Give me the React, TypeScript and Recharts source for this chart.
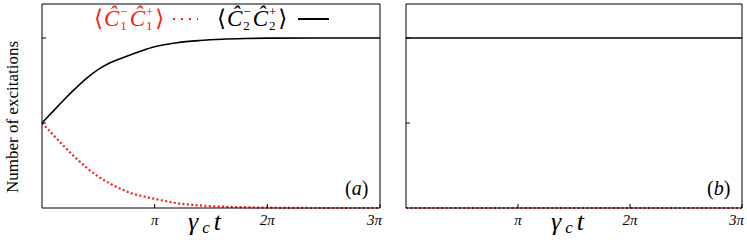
import { LineChart, Line, XAxis, YAxis } from "recharts";

const SERIF = "Liberation Serif, Times New Roman, DejaVu Serif, Tinos, Noto Serif, serif";
const RED = "#ff1a1a";

// time in units of pi
const tLeft = [0, 0.1, 0.2, 0.3, 0.4, 0.5, 0.6, 0.7, 0.8, 0.9, 1.0, 1.2, 1.4, 1.6, 1.8, 2.0, 2.5, 3.0];
const c1Left = [0.5, 0.43, 0.36, 0.295, 0.235, 0.185, 0.145, 0.112, 0.085, 0.068, 0.054, 0.028, 0.015, 0.008, 0.004, 0.002, 0, 0];
const c2Left = [0.5, 0.57, 0.64, 0.705, 0.765, 0.815, 0.853, 0.88, 0.905, 0.928, 0.948, 0.972, 0.985, 0.993, 0.997, 0.999, 1, 1];

const tRight = [0, 1, 2, 3];
const c1Right = [0, 0, 0, 0];
const c2Right = [1, 1, 1, 1];

const xTicks = [1, 2, 3];
const xTickLabels = ["π", "2π", "3π"];
const yTicks = [0.5, 1];

const leftData = tLeft.map((t, i) => ({ t, c1: c1Left[i], c2: c2Left[i] }));
const rightData = tRight.map((t, i) => ({ t, c1: c1Right[i], c2: c2Right[i] }));

function XTick({ x, y, payload }: any) {
  const i = xTicks.indexOf(payload.value);
  const last = i === xTicks.length - 1;
  return (
    <g>
      <line x1={x} x2={x} y1={y} y2={y - 4} stroke="#000" strokeWidth={1} />
      <text
        x={last ? x + 2 : x}
        y={y + 17}
        textAnchor={last ? "end" : "middle"}
        fontSize={15}
        fontFamily={SERIF}
        fontStyle="italic"
        fill="#000"
      >
        {xTickLabels[i]}
      </text>
    </g>
  );
}

function YTick({ x, y }: any) {
  return <line x1={x} x2={x + 4} y1={y} y2={y} stroke="#000" strokeWidth={1} />;
}

function Panel({ data, left, width, marginLeft, marginRight, tag }: any) {
  const plotW = width - marginLeft - marginRight;
  return (
    <div style={{ position: "absolute", left, top: 0 }}>
      <LineChart width={width} height={240} data={data} margin={{ top: 3, right: marginRight - 1, bottom: 31, left: marginLeft - 1 }}>
        <XAxis
          dataKey="t"
          type="number"
          domain={[0, 3]}
          ticks={xTicks}
          height={1}
          tickSize={0}
          tickMargin={0}
          tickLine={false}
          tick={<XTick />}
          axisLine={{ stroke: "#000" }}
        />
        <XAxis xAxisId="top" orientation="top" type="number" dataKey="t" domain={[0, 3]} height={1} tick={false} tickLine={false} axisLine={{ stroke: "#000" }} />
        <YAxis
          type="number"
          domain={[0, 1.2]}
          ticks={yTicks}
          width={1}
          tickSize={0}
          tickMargin={0}
          tickLine={false}
          tick={<YTick />}
          axisLine={{ stroke: "#000" }}
        />
        <YAxis yAxisId="r" orientation="right" type="number" domain={[0, 1.2]} width={1} tick={false} tickLine={false} axisLine={{ stroke: "#000" }} />
        <Line type="monotone" dataKey="c2" stroke="#000" strokeWidth={1.6} dot={false} isAnimationActive={false} />
        <Line type="monotone" dataKey="c1" stroke={RED} strokeWidth={2.2} strokeDasharray="2 2.4" dot={false} isAnimationActive={false} />
      </LineChart>
      <div style={{ position: "absolute", left: width - marginRight - 35, top: 176, fontSize: 20, lineHeight: "24px" }}>
        (<i>{tag}</i>)
      </div>
      <div
        style={{
          position: "absolute",
          left: marginLeft + plotW / 2 - 23,
          top: 209,
          fontSize: 26,
          lineHeight: "26px",
          fontStyle: "italic",
          whiteSpace: "nowrap",
          letterSpacing: 4,
        }}
      >
        γ<span style={{ fontSize: 17, position: "relative", top: 3 }}>c</span>t
      </div>
    </div>
  );
}

function Op({ sub, sup }: { sub: string; sup: string }) {
  return (
    <span style={{ display: "inline-flex", alignItems: "center", marginRight: 2 }}>
      <i>Ĉ</i>
      <span style={{ display: "inline-flex", flexDirection: "column", fontSize: 13, lineHeight: "14px", marginLeft: 1 }}>
        <span>{sup}</span>
        <span>{sub}</span>
      </span>
    </span>
  );
}

export default function App() {
  return (
    <div style={{ position: "absolute", left: 0, top: 0, width: 747, height: 240, background: "#fff", overflow: "hidden", fontFamily: SERIF }}>
      <Panel data={leftData} left={0} width={390} marginLeft={42} marginRight={10} tag="a" />
      <Panel data={rightData} left={392} width={355} marginLeft={14} marginRight={5} tag="b" />
      <div
        style={{
          position: "absolute",
          left: 13 - 100,
          top: 117 - 10,
          width: 200,
          height: 20,
          lineHeight: "20px",
          textAlign: "center",
          transform: "rotate(-90deg)",
          fontSize: 17,
        }}
      >
        Number of excitations
      </div>
      <div style={{ position: "absolute", left: 94, top: 5, fontSize: 23, lineHeight: "28px", color: RED, display: "flex", alignItems: "center", whiteSpace: "nowrap" }}>
        <span style={{ marginRight: 1 }}>⟨</span>
        <Op sup="−" sub="1" />
        <Op sup="+" sub="1" />
        <span>⟩</span>
        <svg width={28} height={6} style={{ marginLeft: 8 }}>
          <line x1={1} x2={26} y1={3} y2={3} stroke={RED} strokeWidth={2} strokeDasharray="2 6" />
        </svg>
      </div>
      <div style={{ position: "absolute", left: 217, top: 5, fontSize: 23, lineHeight: "28px", color: "#000", display: "flex", alignItems: "center", whiteSpace: "nowrap" }}>
        <span style={{ marginRight: 1 }}>⟨</span>
        <Op sup="−" sub="2" />
        <Op sup="+" sub="2" />
        <span>⟩</span>
        <svg width={34} height={6} style={{ marginLeft: 10 }}>
          <line x1={1} x2={32} y1={3} y2={3} stroke="#000" strokeWidth={2} />
        </svg>
      </div>
    </div>
  );
}
